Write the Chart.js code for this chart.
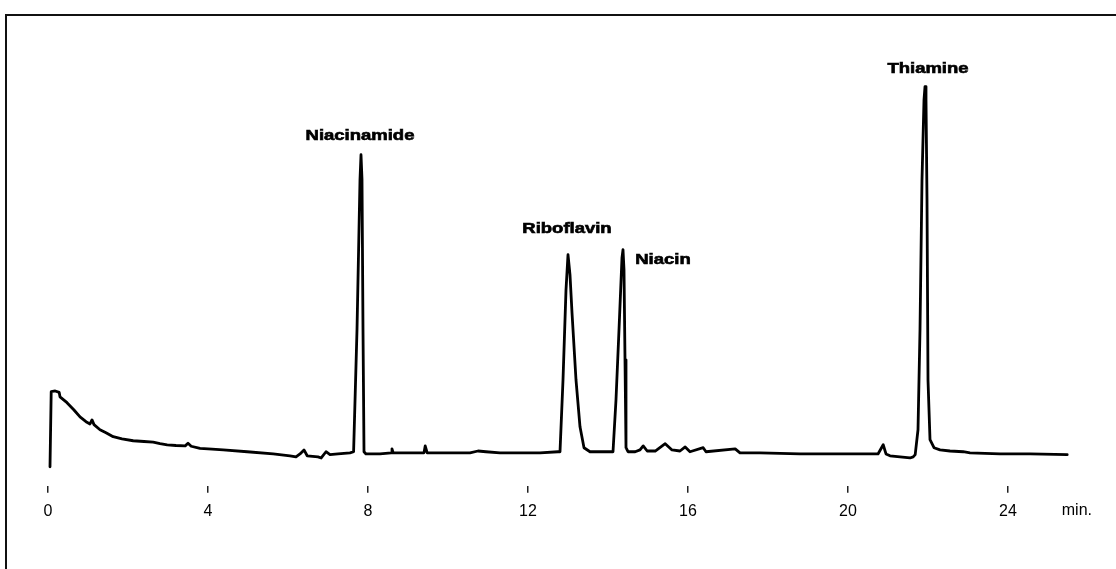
<!DOCTYPE html>
<html>
<head>
<meta charset="utf-8">
<script src="https://cdn.jsdelivr.net/npm/chart.js@4"></script>
<style>
  body { margin: 0; background: #fff; }
  #wrap { position: relative; width: 1116px; height: 569px; }
  #frame {
    position: absolute; left: 5px; top: 14px; right: 0; bottom: 0;
    border-left: 2px solid #111; border-top: 2px solid #111;
    pointer-events: none;
  }
</style>
</head>
<body>
<div id="wrap">
  <canvas id="chromatogram"></canvas>
  <div id="frame"></div>
</div>
<script>
// Retention time (min) and detector signal (arbitrary units)
const times = [
  0.05, 0.08, 0.18, 0.28, 0.3, 0.475, 0.65, 0.8, 0.95, 1.05, 1.1, 1.15, 1.3, 1.45, 1.63, 1.85,
  2.13, 2.4, 2.63, 2.8, 2.98, 3.2, 3.43, 3.5, 3.58, 3.8, 4.1, 4.38, 4.98, 5.63, 6.05, 6.2, 6.3, 6.4, 6.48,
  6.75, 6.83, 6.95, 7.05, 7.25, 7.55, 7.64, 7.725, 7.8, 7.825, 7.85, 7.875, 7.9, 7.95,
  8.3, 8.58, 8.6, 8.63, 9.4, 9.43, 9.48, 10.55, 10.75, 10.95, 11.3, 12.3, 12.75,
  12.8, 12.875, 12.95, 13.0, 13.05, 13.1, 13.2, 13.3, 13.4, 13.55, 14.1,
  14.125, 14.2, 14.275, 14.35, 14.375, 14.4, 14.425, 14.45, 14.5,
  14.68, 14.8, 14.88, 14.98, 15.18, 15.43, 15.6, 15.8, 15.93, 16.05, 16.38, 16.45,
  17.18, 17.3, 17.8, 18.8, 20.0, 20.75, 20.88, 20.95, 21.05, 21.55, 21.63,
  21.68, 21.75, 21.8, 21.85, 21.9, 21.925, 21.95, 21.975, 22.0, 22.05, 22.15, 22.3,
  22.55, 22.88, 23.05, 23.8, 24.55, 25.48
];
const signal = [
  -3.8, 16.7, 16.9, 16.5, 15.3, 13.7, 11.7, 9.8, 8.5, 7.9, 9.0, 7.7, 6.3, 5.5, 4.4, 3.8,
  3.3, 3.1, 2.9, 2.5, 2.2, 2.0, 1.9, 2.6, 1.8, 1.2, 1.0, 0.8, 0.3, -0.3, -0.8, -1.1, -0.3, 0.8, -0.8,
  -1.1, -1.4, 0.3, -0.5, -0.3, 0, 0.3, 33.6, 74.6, 81.4, 74.6, 33.6, 0.3, -0.3,
  -0.3, 0, 1.1, 0, 0, 1.9, 0, 0, 0.5, 0.3, 0, 0, 0.3,
  0.3, 19.9, 44.5, 54.1, 48.6, 38.3, 19.9, 7.1, 1.4, 0.3, 0.3,
  0.3, 14.5, 33.6, 53.3, 55.5, 50.0, 25.4, 1.4, 0.3,
  0.3, 0.8, 1.9, 0.5, 0.5, 2.5, 0.8, 0.5, 1.6, 0.3, 1.4, 0.3,
  1.1, 0, 0, -0.3, -0.3, -0.3, 2.2, -0.3, -0.8, -1.4, -1.1,
  -0.5, 6.3, 33.6, 74.6, 96.4, 100, 96.4, 69.1, 19.9, 3.6, 1.4, 0.8,
  0.5, 0.3, 0, -0.3, -0.3, -0.5
];

// Peak names and their retention times (min)
const peakNames = ["Niacinamide", "Riboflavin", "Niacin", "Thiamine"];
const peakTimes = [7.825, 13.0, 14.375, 21.925];
// label offset from the peak apex, px
const peakLabelOffsets = [[-1, -19], [-1, -26], [40, 11], [3, -17]];

// X axis ticks
const tickValues = [0, 4, 8, 12, 16, 20, 24];
const tickLabels = ["0", "4", "8", "12", "16", "20", "24"];
const axisUnit = "min.";

const points = times.map((t, i) => ({ x: t, y: signal[i] }));

// Draw compound names above the peaks and the unit at the end of the axis
const peakLabelPlugin = {
  id: "peakLabels",
  afterDatasetsDraw(chart) {
    const { ctx, scales: { x, y } } = chart;
    ctx.save();
    ctx.fillStyle = "#000";
    ctx.font = "bold 14px 'Liberation Sans', Arial, sans-serif";
    ctx.textAlign = "center";
    ctx.textBaseline = "middle";
    peakNames.forEach((name, i) => {
      // apex = highest signal near the peak time
      let top = -Infinity;
      times.forEach((t, j) => {
        if (Math.abs(t - peakTimes[i]) < 0.2 && signal[j] > top) top = signal[j];
      });
      const px = x.getPixelForValue(peakTimes[i]) + peakLabelOffsets[i][0];
      const py = y.getPixelForValue(top) + peakLabelOffsets[i][1];
      ctx.save();
      ctx.translate(px, py);
      ctx.scale(1.32, 1);
      ctx.fillText(name, 0, 0);
      ctx.strokeStyle = "#000";
      ctx.lineWidth = 0.6;
      ctx.strokeText(name, 0, 0);
      ctx.restore();
    });
    // unit label
    ctx.font = "16px 'Liberation Sans', Arial, sans-serif";
    ctx.textAlign = "right";
    ctx.textBaseline = "alphabetic";
    ctx.fillText(axisUnit, x.right, 515);
    ctx.restore();
  }
};

const ctx = document.getElementById("chromatogram").getContext("2d");
new Chart(ctx, {
  type: "line",
  data: {
    datasets: [{
      data: points,
      borderColor: "#000",
      borderWidth: 2.8,
      borderJoinStyle: "round",
      borderCapStyle: "round",
      pointRadius: 0,
      tension: 0,
      fill: false
    }]
  },
  options: {
    responsive: true,
    maintainAspectRatio: false,
    animation: false,
    layout: { padding: { left: 48, right: 24, top: 50, bottom: 39 } },
    plugins: { legend: { display: false }, tooltip: { enabled: false } },
    scales: {
      x: {
        type: "linear",
        min: 0,
        max: 26.1,
        afterBuildTicks: (scale) => {
          scale.ticks = tickValues.map(v => ({ value: v }));
        },
        ticks: {
          color: "#000",
          font: { family: "'Liberation Sans', Arial, sans-serif", size: 16 },
          padding: 9,
          maxRotation: 0,
          autoSkip: false,
          callback: (value) => tickLabels[tickValues.indexOf(value)]
        },
        grid: {
          drawOnChartArea: false,
          drawTicks: true,
          tickLength: 7,
          color: "#222",
          lineWidth: 1.5
        },
        border: { display: false }
      },
      y: {
        display: false,
        min: -9,
        max: 110
      }
    }
  },
  plugins: [peakLabelPlugin]
});
</script>
</body>
</html>
